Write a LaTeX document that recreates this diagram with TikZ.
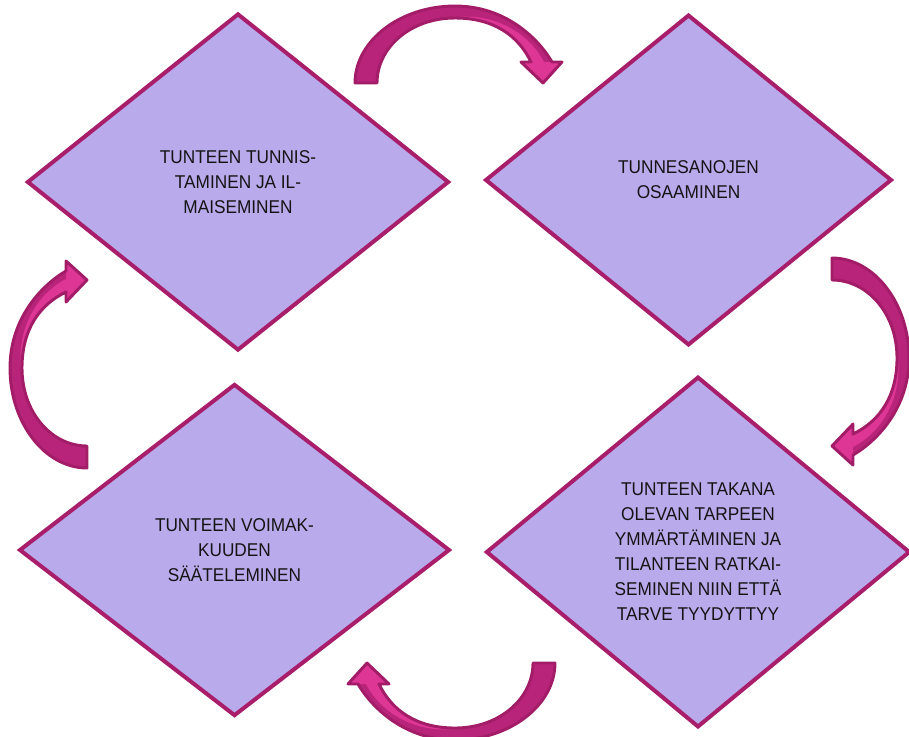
\documentclass[tikz,border=0pt]{standalone}
\usepackage{fontspec}
\setmainfont{Liberation Sans}[FakeStretch=0.93]
\usetikzlibrary{shapes.geometric}
\definecolor{boxfill}{RGB}{185,170,236}
\definecolor{boxline}{RGB}{168,30,106}
\definecolor{arrdark}{RGB}{184,36,121}
\definecolor{arrline}{RGB}{162,28,103}
\definecolor{arrlight}{RGB}{222,54,148}
\begin{document}
\begin{tikzpicture}[x=0.75pt,y=-0.75pt,
  box/.style={diamond, draw=boxline, fill=boxfill, line width=3pt, inner sep=0pt,
    align=center, font=\fontsize{13.9}{18.75}\selectfont, text={black!92}},
  curvarrow/.pic={
    \fill[arrdark] (0,0) .. controls (0,-42) and (45,-77) .. (100,-77)
      .. controls (150,-77) and (183,-45) .. (197,-21) -- (207,-21) -- (188,0)
      -- (166,-21) -- (176,-21) .. controls (163,-48) and (138,-65) .. (100,-65)
      .. controls (55,-65) and (22,-35) .. (22,0) -- cycle;
    \fill[arrlight] (100,-65) .. controls (138,-65) and (163,-48) .. (176,-21)
      -- (166,-21) -- (188,0) -- (207,-21) -- (189,-21)
      .. controls (174,-50) and (140,-70) .. (100,-66) -- cycle;
    \draw[arrline, line width=2.2pt, line join=round] (0,0) .. controls (0,-42) and (45,-77) .. (100,-77)
      .. controls (150,-77) and (183,-45) .. (197,-21) -- (207,-21) -- (188,0)
      -- (166,-21) -- (176,-21) .. controls (163,-48) and (138,-65) .. (100,-65)
      .. controls (55,-65) and (22,-35) .. (22,0) -- cycle;
  }]
\useasboundingbox (0,0) rectangle (909,736);
\clip (0,0) rectangle (909,736);

\node[box, minimum width=316.5pt, minimum height=252.75pt] (d1) at (238,182)
  {TUNTEEN TUNNIS-\\TAMINEN JA IL-\\MAISEMINEN};
\node[box, minimum width=305pt, minimum height=248pt] (d2) at (688.5,180)
  {TUNNESANOJEN\\OSAAMINEN};
\node[box, minimum width=318pt, minimum height=263pt] (d3) at (698,552)
  {TUNTEEN TAKANA\\OLEVAN TARPEEN\\YMMÄRTÄMINEN JA\\TILANTEEN RATKAI-\\SEMINEN NIIN ETTÄ\\TARVE TYYDYTTYY};
\node[box, minimum width=323pt, minimum height=249pt] (d4) at (234.5,550)
  {TUNTEEN VOIMAK-\\KUUDEN\\SÄÄTELEMINEN};

\coordinate (a1) at (355,83);
\coordinate (a2) at (832,258);
\coordinate (a3) at (555,663);
\coordinate (a4) at (87,468);
\pic[shift={(a1)}] {curvarrow};
\pic[shift={(a2)}, rotate=-90] {curvarrow};
\pic[shift={(a3)}, rotate=180] {curvarrow};
\pic[shift={(a4)}, rotate=90] {curvarrow};
\end{tikzpicture}
\end{document}
